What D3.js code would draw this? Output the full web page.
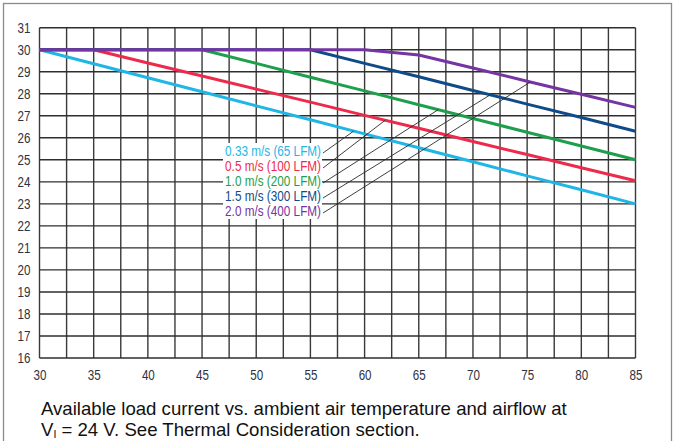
<!DOCTYPE html>
<html>
<head>
<meta charset="utf-8">
<script src="https://cdn.jsdelivr.net/npm/d3@7"></script>
<style>
  html, body { margin: 0; padding: 0; background: #fff; }
  svg { display: block; }
</style>
</head>
<body>
<svg id="chart" width="680" height="441"></svg>
<script>
// ---- data ----
const temps = [30, 35, 40, 45, 50, 55, 60, 65, 70, 75, 80, 85];
const v033 = [30.00, 29.36, 28.73, 28.09, 27.45, 26.82, 26.18, 25.55, 24.91, 24.27, 23.64, 23.00];
const v05  = [30.00, 30.00, 29.40, 28.81, 28.21, 27.62, 27.02, 26.43, 25.83, 25.24, 24.64, 24.05];
const v10  = [30.00, 30.00, 30.00, 30.00, 29.38, 28.75, 28.13, 27.50, 26.88, 26.25, 25.63, 25.00];
const v15  = [30.00, 30.00, 30.00, 30.00, 30.00, 30.00, 29.38, 28.77, 28.15, 27.53, 26.92, 26.30];
const v20  = [30.00, 30.00, 30.00, 30.00, 30.00, 30.00, 30.00, 29.76, 29.17, 28.57, 27.98, 27.38];
const seriesNames = ["0.33 m/s (65 LFM)", "0.5 m/s (100 LFM)", "1.0 m/s (200 LFM)", "1.5 m/s (300 LFM)", "2.0 m/s (400 LFM)"];
const seriesValues = [v033, v05, v10, v15, v20];
const leaderTemps = [59.0, 61.9, 66.8, 71.6, 75.3];
const xTicks = [30, 35, 40, 45, 50, 55, 60, 65, 70, 75, 80, 85];
const yTicks = [16, 17, 18, 19, 20, 21, 22, 23, 24, 25, 26, 27, 28, 29, 30, 31];
const captionLine1 = "Available load current vs. ambient air temperature and airflow at";
const captionLine2a = "V";
const captionLine2sub = "I";
const captionLine2b = " = 24 V. See Thermal Consideration section.";

// ---- styles ----
const colors = ["#1fb6e6", "#ee2a4b", "#1e9f4b", "#0f4b88", "#7434a2"];
const labelFont = "'Liberation Sans', Arial, sans-serif";
const narrow = 0.83;

const svg = d3.select("#chart");

// outer frame
svg.append("rect")
  .attr("x", 3.5).attr("y", 3.5).attr("width", 668).attr("height", 460)
  .attr("fill", "none").attr("stroke", "#8a8a8a").attr("stroke-width", 1.3);

const x = d3.scaleLinear().domain([30, 85]).range([39.5, 635.5]);
const y = d3.scaleLinear().domain([16, 31]).range([358, 27.7]);

// grid
const grid = svg.append("g");
const xGrid = d3.range(30, 85.01, 2.5);
grid.selectAll("line.v").data(xGrid).enter().append("line")
  .attr("x1", d => x(d)).attr("x2", d => x(d))
  .attr("y1", y(31)).attr("y2", y(16))
  .attr("stroke", "#3a3a3a").attr("stroke-width", 1.4);
grid.selectAll("line.h").data(yTicks).enter().append("line")
  .attr("x1", x(30)).attr("x2", x(85))
  .attr("y1", d => y(d)).attr("y2", d => y(d))
  .attr("stroke", "#2e2e2e").attr("stroke-width", 1.4);

// axes (labels only)
const xAxis = d3.axisBottom(x).tickValues(xTicks).tickSize(0).tickPadding(0);
const gx = svg.append("g").attr("transform", `translate(0, ${y(16) + 12})`).call(xAxis);
gx.select(".domain").remove();
gx.selectAll("text").attr("font-family", labelFont).attr("font-size", 14)
  .attr("fill", "#2f3140").attr("transform", `scale(${narrow},1)`);

const yAxis = d3.axisLeft(y).tickValues(yTicks).tickSize(0).tickPadding(0);
const gy = svg.append("g").attr("transform", `translate(${x(30) - 9}, 0)`).call(yAxis);
gy.select(".domain").remove();
gy.selectAll("text").attr("font-family", labelFont).attr("font-size", 14)
  .attr("fill", "#2f3140").attr("transform", `scale(${narrow},1)`).attr("x", 0);

// curves
const line = d3.line().x(d => x(d[0])).y(d => y(d[1]));
seriesValues.forEach((vals, i) => {
  svg.append("path")
    .datum(temps.map((t, k) => [t, vals[k]]))
    .attr("d", line)
    .attr("fill", "none")
    .attr("stroke", colors[i])
    .attr("stroke-width", 3)
    .attr("stroke-linejoin", "round");
});

// legend labels with white background
const labelRight = 321;
const rowY0 = 151, rowStep = 15;
const lg = svg.append("g");
lg.append("rect")
  .attr("x", 223).attr("y", rowY0 - 8).attr("width", labelRight - 223 + 1)
  .attr("height", rowStep * 4 + 16).attr("fill", "#fff");
seriesNames.forEach((name, i) => {
  lg.append("g")
    .attr("transform", `translate(${labelRight}, ${rowY0 + i * rowStep}) scale(0.84,1)`)
    .append("text")
    .attr("dy", "0.36em")
    .attr("text-anchor", "end")
    .attr("font-family", labelFont).attr("font-size", 14)
    .attr("fill", colors[i])
    .text(name);
});

// leader lines
seriesValues.forEach((vals, i) => {
  const interp = d3.scaleLinear().domain(temps).range(vals);
  const t = leaderTemps[i];
  svg.append("line")
    .attr("x1", labelRight + 2).attr("y1", rowY0 + i * rowStep + 2)
    .attr("x2", x(t)).attr("y2", y(interp(t)))
    .attr("stroke", "#2a2a2a").attr("stroke-width", 0.9);
});

// caption
const cap = svg.append("text")
  .attr("font-family", "'Liberation Sans', Arial, sans-serif")
  .attr("font-size", 18.6).attr("fill", "#111");
cap.append("tspan").attr("x", 41).attr("y", 415).text(captionLine1);
cap.append("tspan").attr("x", 41).attr("y", 435.5).text(captionLine2a);
cap.append("tspan").attr("font-size", 10.5).attr("dy", 2).text(captionLine2sub);
cap.append("tspan").attr("dy", -2).text(captionLine2b);
</script>
</body>
</html>
